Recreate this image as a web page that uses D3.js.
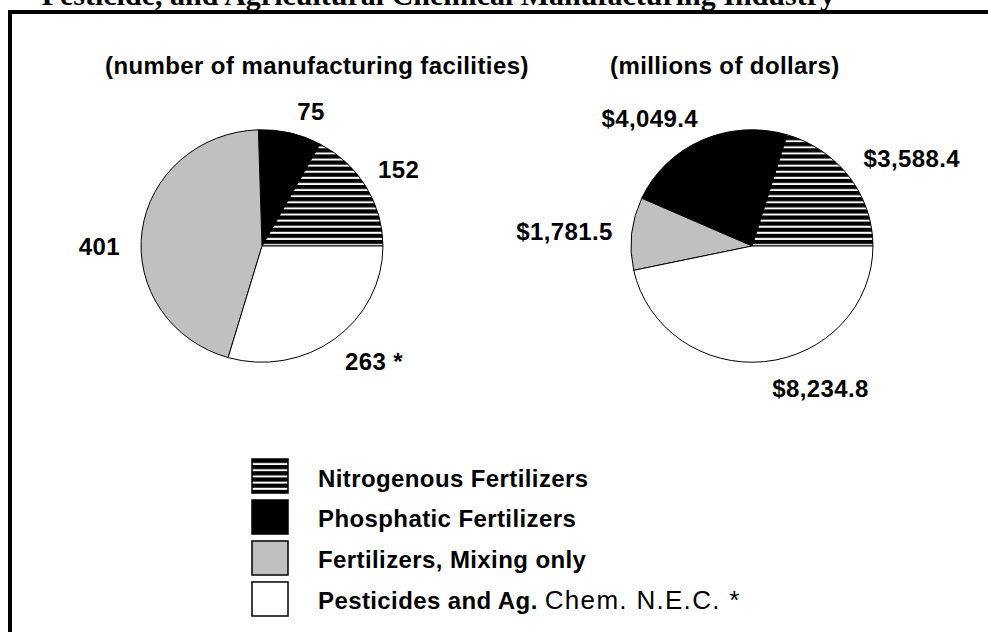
<!DOCTYPE html>
<html>
<head>
<meta charset="utf-8">
<script src="https://cdn.jsdelivr.net/npm/d3@7"></script>
<style>
  html, body { margin: 0; padding: 0; background: #fff; }
  svg { display: block; }
  text { font-family: "Liberation Sans", Arial, sans-serif; font-weight: bold; fill: #000; }
  .title { font-family: "Liberation Serif", "Times New Roman", serif; font-size: 30px; }
  .sub, .label, .legend-text { font-size: 24px; letter-spacing: 0.4px; }
  .light { font-weight: normal; font-size: 26px; letter-spacing: 1.3px; }
</style>
</head>
<body>
<div id="chart"></div>
<script>
// data
const categories = [
  'Nitrogenous Fertilizers',
  'Phosphatic Fertilizers',
  'Fertilizers, Mixing only',
  'Pesticides and Ag. Chem. N.E.C. *'
];
const facilityCounts = [152, 75, 401, 263];
const facilityLabels = ['152', '75', '401', '263 *'];
const shipmentValues = [3588.4, 4049.4, 1781.5, 8234.8];
const shipmentLabels = ['$3,588.4', '$4,049.4', '$1,781.5', '$8,234.8'];
const titleText = 'Pesticide, and Agricultural Chemical Manufacturing Industry';
const subtitles = ['(number of manufacturing facilities)', '(millions of dollars)'];

// layout
const width = 988,
      height = 632,
      radius = 118,
      labelRadius = 135;

const pies = [
  { key: 'facilities', cx: 262, cy: 246, subX: 105, values: facilityCounts, labels: facilityLabels,
    nudge: [[0, -3], [4, 5], [-8, 20], [2, 2.5]] },
  { key: 'shipments', cx: 752, cy: 246, subX: 610, values: shipmentValues, labels: shipmentLabels,
    nudge: [[3, -1.5], [2, 3], [-5, 2], [6, 2]] }
];

const fill = d3.scaleOrdinal()
  .domain(categories)
  .range(['url(#hatch)', '#000', '#c0c0c0', '#fff']);

const $svg = d3.select('#chart').append('svg')
  .attr('width', width)
  .attr('height', height);

// hatch pattern for nitrogenous
const $pattern = $svg.append('defs').append('pattern')
  .attr('id', 'hatch')
  .attr('patternUnits', 'userSpaceOnUse')
  .attr('width', 8)
  .attr('height', 6.2);
$pattern.append('rect').attr('width', 8).attr('height', 6.2).attr('fill', '#fff');
$pattern.append('rect').attr('width', 8).attr('height', 4.2).attr('fill', '#000');

// title from the page above, cut by the top edge as in the scan
$svg.append('text')
  .classed('title', true)
  .attr('x', 835)
  .attr('y', 5)
  .attr('text-anchor', 'end')
  .text(titleText);

// frame
$svg.append('path')
  .attr('d', `M10,${height} V12 H${width}`)
  .attr('fill', 'none')
  .attr('stroke', '#000')
  .attr('stroke-width', 4);

// slices clockwise from 3 o'clock, last category first
const pie = d3.pie()
  .value(d => d.value)
  .sort((a, b) => b.i - a.i)
  .startAngle(Math.PI / 2)
  .endAngle(Math.PI / 2 + 2 * Math.PI);

const arc = d3.arc().innerRadius(0).outerRadius(radius);
const labelArc = d3.arc().innerRadius(labelRadius).outerRadius(labelRadius);

pies.forEach((p, k) => {
  const arcs = pie(p.values.map((v, i) => ({ value: v, i: i })));

  $svg.append('text')
    .classed('sub', true)
    .attr('x', p.subX)
    .attr('y', 74)
    .text(subtitles[k]);

  const $g = $svg.append('g')
    .attr('transform', `translate(${p.cx},${p.cy}) scale(1.025,0.985)`);

  $g.selectAll('path')
    .data(arcs)
    .enter()
    .append('path')
    .attr('d', arc)
    .attr('fill', d => fill(categories[d.data.i]))
    .attr('stroke', '#000')
    .attr('stroke-width', 1)
    .attr('vector-effect', 'non-scaling-stroke')
    .attr('stroke-linejoin', 'round');

  const $labels = $svg.append('g')
    .attr('transform', `translate(${p.cx},${p.cy})`);

  $labels.selectAll('text')
    .data(arcs)
    .enter()
    .append('text')
    .classed('label', true)
    .each(function(d) {
      const mid = (d.startAngle + d.endAngle) / 2;
      const [x, y] = labelArc.centroid(d);
      const n = p.nudge[d.data.i];
      d3.select(this)
        .attr('x', x + n[0])
        .attr('y', y + 7.5 - 7.5 * Math.cos(mid) + n[1])
        .attr('text-anchor', Math.sin(mid) >= 0 ? 'start' : 'end')
        .text(p.labels[d.data.i]);
    });
});

// legend
const legendY = d3.scaleBand()
  .domain(categories)
  .range([459, 616])
  .paddingInner(0.17);

const $legend = $svg.append('g');

$legend.selectAll('rect')
  .data(categories)
  .enter()
  .append('rect')
  .attr('x', 252)
  .attr('y', d => legendY(d))
  .attr('width', 36)
  .attr('height', legendY.bandwidth())
  .attr('fill', d => fill(d))
  .attr('stroke', '#000')
  .attr('stroke-width', 1.5);

$legend.selectAll('text')
  .data(categories)
  .enter()
  .append('text')
  .classed('legend-text', true)
  .attr('x', 318)
  .attr('y', d => legendY(d) + 27.5)
  .each(function(d) {
    // the old print shows "Chem. N.E.C. *" lighter and a bit larger
    const cut = d.indexOf('Chem.');
    const $t = d3.select(this);
    if (cut < 0) { $t.text(d); return; }
    $t.append('tspan').text(d.slice(0, cut));
    $t.append('tspan').classed('light', true).text(d.slice(cut));
  });
</script>
</body>
</html>
